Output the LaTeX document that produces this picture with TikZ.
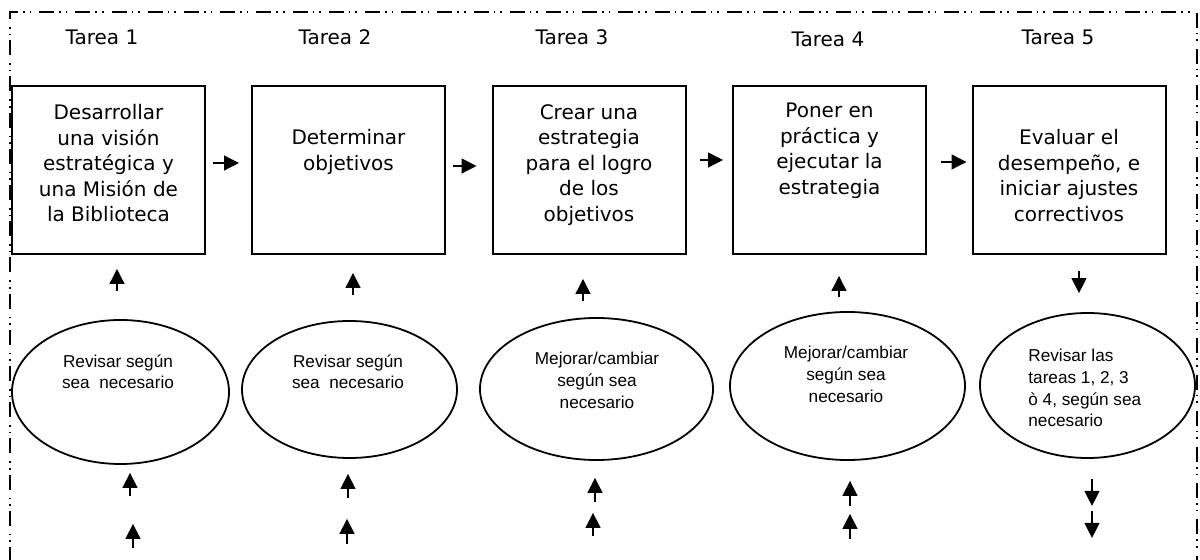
\documentclass[tikz,border=0pt]{standalone}
\usepackage{fontspec}
\setmainfont{DejaVu Sans}
\newfontfamily\arialfont{Liberation Sans}
\usetikzlibrary{shapes.geometric,arrows.meta}

\tikzset{
  marco/.style={line width=0.8pt, dash pattern=on 7.5pt off 2.5pt on 0.8pt off 2.5pt on 0.8pt off 4pt},
  tarea/.style={draw, line width=1pt, minimum width=96.5pt, minimum height=84pt, inner sep=0pt},
  tareatexto/.style={align=center, anchor=north, inner sep=0pt, font=\fontsize{10}{12.75}\selectfont},
  titulo/.style={anchor=base, inner sep=0pt, font=\fontsize{10}{12}\selectfont},
  revisa/.style={draw, ellipse, line width=0.9pt, inner sep=0pt},
  revisatexto/.style={align=center, anchor=north, inner sep=0pt, font=\fontsize{8.6}{10.8}\selectfont\arialfont},
  flecha/.style={line width=0.65pt, -{Triangle[length=7.5pt,width=7.5pt]}}
}

\begin{document}
\begin{tikzpicture}[x=0.5pt,y=-0.5pt]
\useasboundingbox (0,0) rectangle (1200,560);
\draw[marco] (10,562) -- (10,12) -- (1197,12) -- (1197,562);

% titulos
\foreach \i/\x/\y in {1/102/45,2/335/45,3/572/45,4/828/47,5/1058/45}{
  \node[titulo] (t\i) at (\x,\y) {Tarea \i};
}

% tareas
\node[tarea] (b1) at (108.5,170) {};
\node[tarea] (b2) at (348.5,170) {};
\node[tarea] (b3) at (589,170) {};
\node[tarea] (b4) at (829.5,170) {};
\node[tarea] (b5) at (1069,170) {};
\node[tareatexto] (d1) at (108.5,104) {Desarrollar\\una visión\\estratégica y\\una Misión de\\la Biblioteca};
\node[tareatexto] (d2) at (348.5,129) {Determinar\\objetivos};
\node[tareatexto] (d3) at (589,104) {Crear una\\estrategia\\para el logro\\de los\\objetivos};
\node[tareatexto] (d4) at (829.5,103) {Poner en\\práctica y\\ejecutar la\\estrategia};
\node[tareatexto] (d5) at (1069,129) {Evaluar el\\desempeño, e\\iniciar ajustes\\correctivos};

% revisiones
\node[revisa, minimum width=108.5pt, minimum height=72pt] (e1) at (120.5,392) {};
\node[revisa, minimum width=107.5pt, minimum height=68.5pt] (e2) at (349.5,389.5) {};
\node[revisa, minimum width=116.5pt, minimum height=71pt] (e3) at (596.5,389) {};
\node[revisa, minimum width=117.5pt, minimum height=74pt] (e4) at (847.5,386) {};
\node[revisa, minimum width=107.5pt, minimum height=72.5pt] (e5) at (1087.5,385.5) {};
\node[revisatexto] (r1) at (118,354) {Revisar según\\sea~ necesario};
\node[revisatexto] (r2) at (348,354) {Revisar según\\sea~ necesario};
\node[revisatexto] (r3) at (597,352) {Mejorar/cambiar\\según sea\\necesario};
\node[revisatexto] (r4) at (846,346) {Mejorar/cambiar\\según sea\\necesario};
\node[revisatexto, anchor=north west, align=left] (r5) at (1028,349) {Revisar las\\tareas 1, 2, 3\\ò 4, según sea\\necesario};

% flechas entre tareas
\draw[flecha] ([shift={(7,-7)}]b1.east) -- ([shift={(-12,-7)}]b2.west);
\draw[flecha] ([shift={(7,-4)}]b2.east) -- ([shift={(-15,-4)}]b3.west);
\draw[flecha] ([shift={(13,-10)}]b3.east) -- ([shift={(-9,-10)}]b4.west);
\draw[flecha] ([shift={(14,-8)}]b4.east) -- ([shift={(-5,-8)}]b5.west);

% flechas hacia las tareas
\draw[flecha] ([shift={(-3.5,-28)}]e1.north) -- ([shift={(8.5,14)}]b1.south);
\draw[flecha] ([shift={(3.5,-25.5)}]e2.north) -- ([shift={(4.5,18)}]b2.south);
\draw[flecha] ([shift={(-13.5,-16)}]e3.north) -- ([shift={(-6,24)}]b3.south);
\draw[flecha] ([shift={(-8.5,-14)}]e4.north) -- ([shift={(9.5,21)}]b4.south);
\draw[flecha] ([shift={(10,16)}]b5.south) -- ([shift={(-8.5,-19)}]e5.north);

% flechas de abajo
\foreach \e/\dx/\ya/\yb in {e1/9.5/31/8, e1/12.5/83/59, e2/-1.5/39/15, e2/-2.5/85/60,
  e3/-1.5/41/17, e3/-3.5/75/52, e4/2.5/45/20, e4/2.5/78/53, e5/4.5/20/47, e5/4.5/52/79}{
  \draw[flecha] ([shift={(\dx,\ya)}]\e.south) -- ([shift={(\dx,\yb)}]\e.south);
}
\end{tikzpicture}
\end{document}
